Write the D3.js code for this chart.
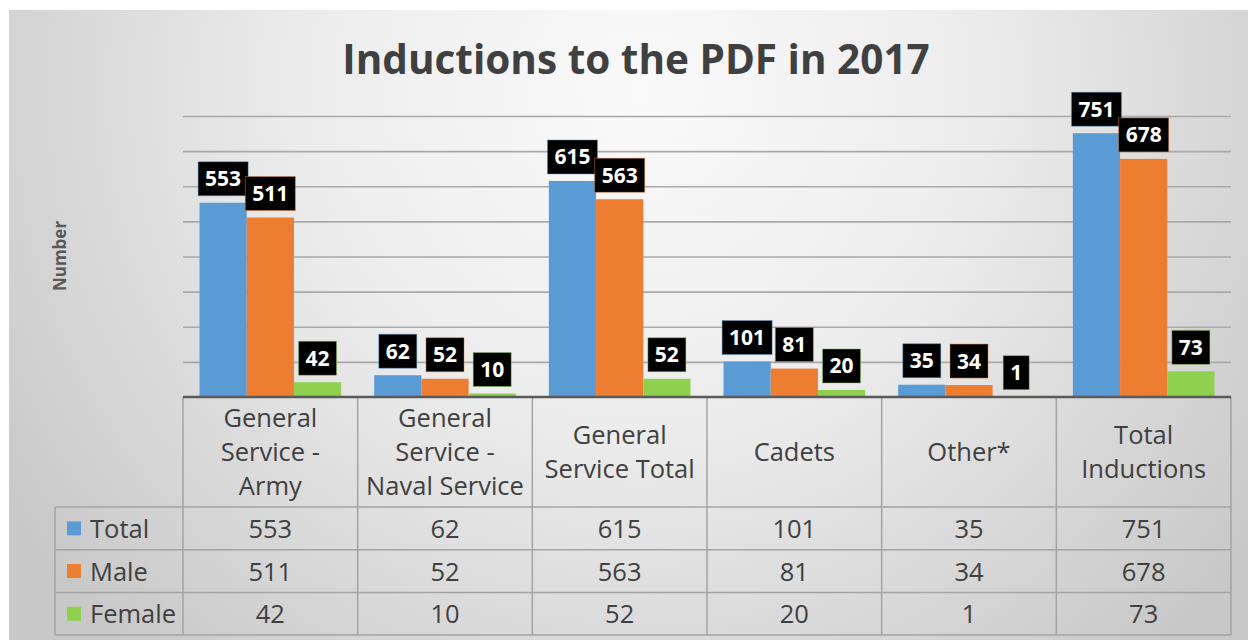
<!DOCTYPE html>
<html>
<head>
<meta charset="utf-8">
<script src="https://cdn.jsdelivr.net/npm/d3@7"></script>
<style>
  body { margin: 0; background: #fff; }
  svg { display: block; font-family: "Open Sans", sans-serif; }
</style>
</head>
<body>
<svg width="1248" height="640"></svg>
<script>
  const categories = ['General Service - Army', 'General Service - Naval Service', 'General Service Total', 'Cadets', 'Other*', 'Total Inductions'];
  const headerLines = [['General', 'Service -', 'Army'], ['General', 'Service -', 'Naval Service'], ['General', 'Service Total'], ['Cadets'], ['Other*'], ['Total', 'Inductions']];
  const seriesNames = ['Total', 'Male', 'Female'];
  const totalValues = [553, 62, 615, 101, 35, 751];
  const maleValues = [511, 52, 563, 81, 34, 678];
  const femaleValues = [42, 10, 52, 20, 1, 73];
  const yTicks = [100, 200, 300, 400, 500, 600, 700, 800];

  const colors = ['#5b9bd5', '#ed7d31', '#8fd14f'];
  const seriesValues = [totalValues, maleValues, femaleValues];

  const svg = d3.select('svg');
  const width = +svg.attr('width');
  const height = +svg.attr('height');

  const plotLeft = 183, plotRight = 1231, plotTop = 116, baseY = 397;
  const tableLeft = 55, headerBottom = 507, rowH = 42.7;
  const tableFont = '25.5px';

  // background panel
  const defs = svg.append('defs');
  const grad = defs.append('radialGradient')
    .attr('id', 'bg')
    .attr('gradientUnits', 'userSpaceOnUse')
    .attr('cx', 640).attr('cy', 90).attr('r', 760);
  grad.append('stop').attr('offset', 0).attr('stop-color', '#fafafa');
  grad.append('stop').attr('offset', 0.45).attr('stop-color', '#ececec');
  grad.append('stop').attr('offset', 1).attr('stop-color', '#c8c8c8');

  svg.append('rect')
    .attr('x', 9).attr('y', 10)
    .attr('width', width).attr('height', height)
    .attr('fill', 'url(#bg)');

  const xCat = d3.scaleBand()
    .domain(categories)
    .range([plotLeft, plotRight]);

  const xSeries = d3.scaleBand()
    .domain(seriesNames)
    .range([0, xCat.bandwidth()])
    .paddingInner(0)
    .paddingOuter(0.35);

  const yScale = d3.scaleLinear()
    .domain([0, 800])
    .range([baseY, plotTop]);

  // gridlines
  const yAxis = d3.axisLeft(yScale)
    .tickValues(yTicks)
    .tickSize(-(plotRight - plotLeft))
    .tickFormat('');
  const yAxisG = svg.append('g')
    .attr('transform', `translate(${plotLeft},0)`)
    .call(yAxis);
  yAxisG.select('.domain').remove();
  yAxisG.selectAll('line')
    .attr('stroke', '#a9a9a9')
    .attr('stroke-width', 1.6);

  // title
  svg.append('text')
    .attr('x', 636)
    .attr('y', 74)
    .attr('text-anchor', 'middle')
    .attr('fill', '#404040')
    .style('font-size', '40.5px')
    .style('font-weight', 700)
    .text('Inductions to the PDF in 2017');

  svg.append('text')
    .attr('transform', `translate(66,256) rotate(-90)`)
    .attr('text-anchor', 'middle')
    .attr('fill', '#595959')
    .style('font-size', '17px')
    .style('font-weight', 700)
    .text('Number');

  // bars
  const barData = [];
  seriesNames.forEach((s, si) => {
    categories.forEach((c, ci) => {
      barData.push({ series: s, si, cat: c, value: seriesValues[si][ci] });
    });
  });

  svg.append('g')
    .selectAll('rect')
    .data(barData)
    .join('rect')
      .attr('x', d => xCat(d.cat) + xSeries(d.series))
      .attr('y', d => yScale(d.value))
      .attr('width', xSeries.bandwidth())
      .attr('height', d => baseY - yScale(d.value))
      .attr('fill', d => colors[d.si]);

  // data labels
  const labelG = svg.append('g');
  barData.forEach(d => {
    const cx = xCat(d.cat) + xSeries(d.series) + xSeries.bandwidth() / 2;
    const bottom = yScale(d.value) - 7;
    const g = labelG.append('g');
    const rect = g.append('rect');
    const t = g.append('text')
      .attr('x', cx)
      .attr('y', bottom - 17 + 7.5)
      .attr('text-anchor', 'middle')
      .attr('fill', '#fff')
      .style('font-size', '21px')
      .style('font-weight', 700)
      .text(d.value);
    const w = t.node().getComputedTextLength() + 14;
    rect.attr('x', cx - w / 2)
      .attr('y', bottom - 34)
      .attr('width', w)
      .attr('height', 34)
      .attr('fill', '#000')
      .attr('stroke', colors[d.si])
      .attr('stroke-opacity', 0.45)
      .attr('stroke-width', 1);
  });

  // data table
  const table = svg.append('g');
  const tableBottom = headerBottom + rowH * 3;
  const gridColor = '#a3a3a3';

  [0, 1, 2, 3].forEach(i => {
    table.append('line')
      .attr('x1', tableLeft).attr('x2', plotRight)
      .attr('y1', headerBottom + i * rowH).attr('y2', headerBottom + i * rowH)
      .attr('stroke', gridColor).attr('stroke-width', 1.5);
  });
  table.append('line')
    .attr('x1', tableLeft).attr('x2', tableLeft)
    .attr('y1', headerBottom).attr('y2', tableBottom)
    .attr('stroke', gridColor).attr('stroke-width', 1.5);
  categories.concat(['end']).forEach((c, i) => {
    const x = i < categories.length ? xCat(c) : plotRight;
    table.append('line')
      .attr('x1', x).attr('x2', x)
      .attr('y1', baseY).attr('y2', tableBottom)
      .attr('stroke', gridColor).attr('stroke-width', 1.5);
  });

  // baseline
  svg.append('line')
    .attr('x1', plotLeft).attr('x2', plotRight)
    .attr('y1', baseY).attr('y2', baseY)
    .attr('stroke', '#5a5a5a')
    .attr('stroke-width', 2.5);

  const headerMid = (baseY + headerBottom) / 2;
  categories.forEach((c, ci) => {
    const lines = headerLines[ci];
    const cx = xCat(c) + xCat.bandwidth() / 2;
    lines.forEach((ln, li) => {
      table.append('text')
        .attr('x', cx)
        .attr('y', headerMid + 9 + (li - (lines.length - 1) / 2) * 34)
        .attr('text-anchor', 'middle')
        .attr('fill', '#404040')
        .style('font-size', tableFont)
        .text(ln);
    });
  });

  seriesNames.forEach((s, si) => {
    const rowMid = headerBottom + rowH * si + rowH / 2;
    table.append('rect')
      .attr('x', 67).attr('y', rowMid - 7)
      .attr('width', 14).attr('height', 14)
      .attr('fill', colors[si]);
    table.append('text')
      .attr('x', 90)
      .attr('y', rowMid + 9.5)
      .attr('fill', '#404040')
      .style('font-size', tableFont)
      .text(s);
    categories.forEach((c, ci) => {
      table.append('text')
        .attr('x', xCat(c) + xCat.bandwidth() / 2)
        .attr('y', rowMid + 9.5)
        .attr('text-anchor', 'middle')
        .attr('fill', '#404040')
        .style('font-size', tableFont)
        .text(seriesValues[si][ci]);
    });
  });
</script>
</body>
</html>
